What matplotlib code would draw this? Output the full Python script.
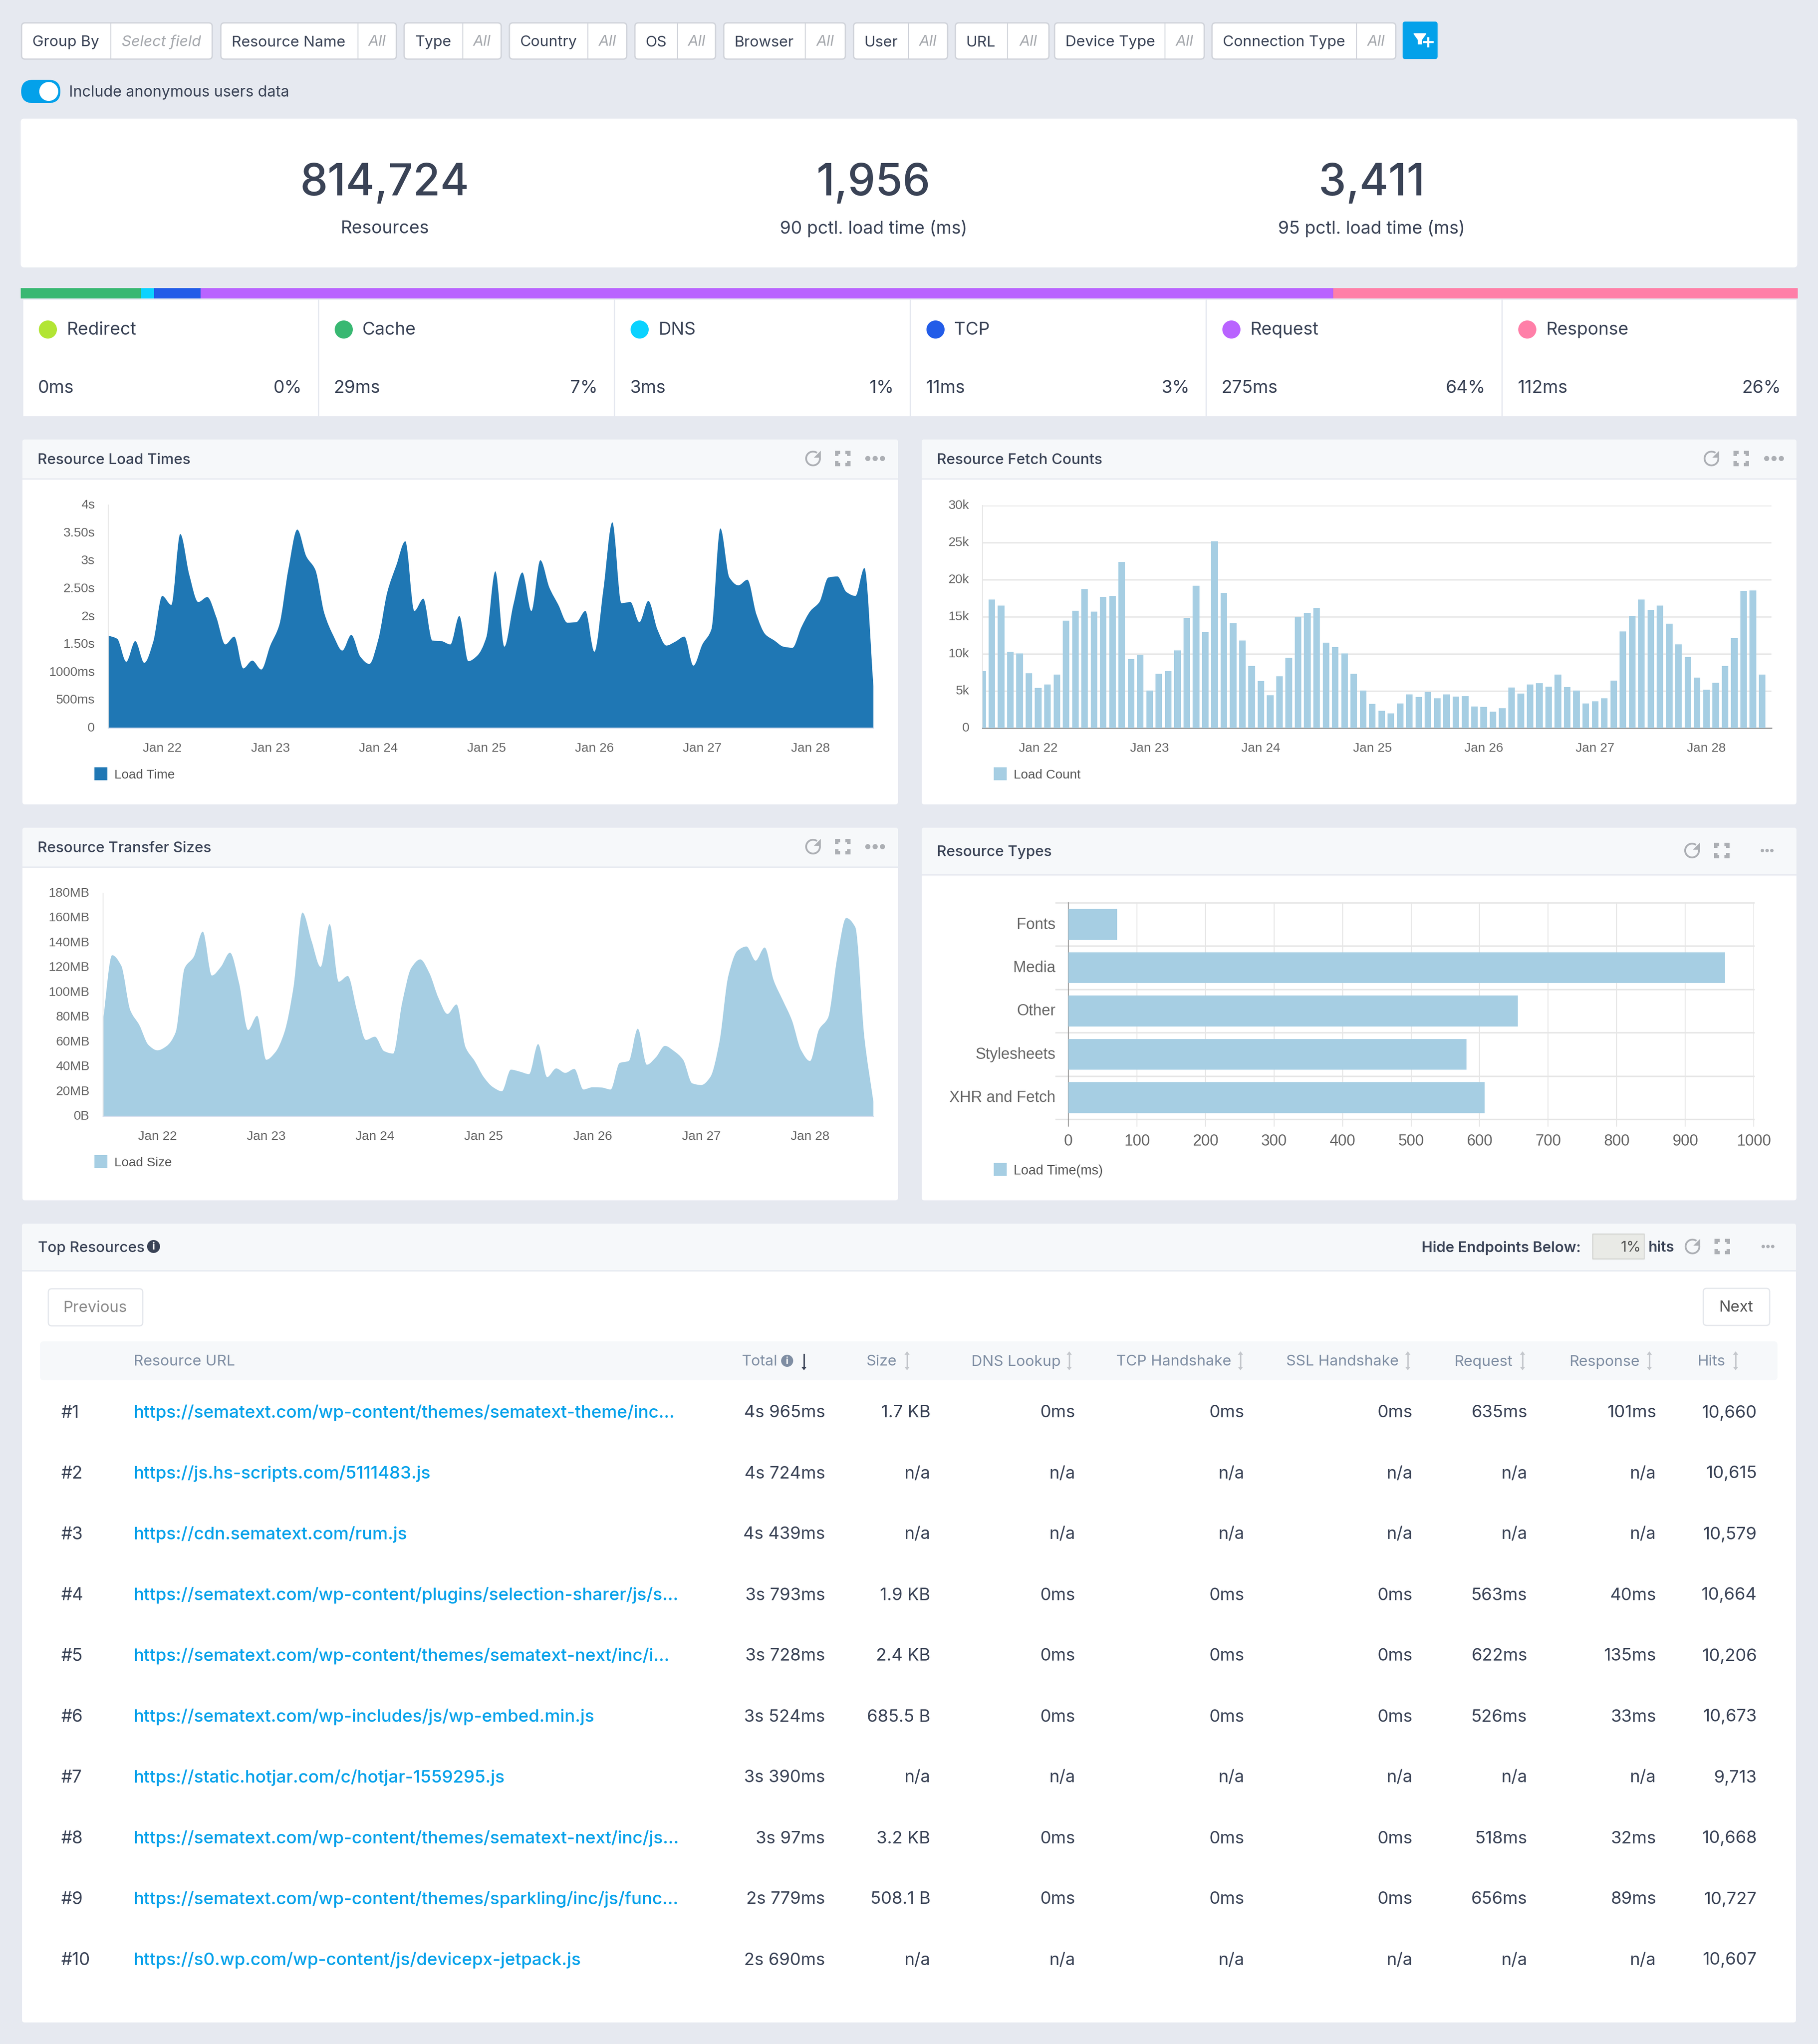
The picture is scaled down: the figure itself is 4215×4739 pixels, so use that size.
import numpy as np
import matplotlib
matplotlib.use('Agg')
import matplotlib.pyplot as plt
from matplotlib.patches import FancyBboxPatch, Rectangle, Circle, Arc, PathPatch, Polygon
from matplotlib.path import Path
from matplotlib.transforms import ScaledTranslation

W, H = 4215, 4739
plt.rcParams['font.family'] = ['Inter', 'DejaVu Sans']

# --- data ---
day_labels = ['Jan 22', 'Jan 23', 'Jan 24', 'Jan 25', 'Jan 26', 'Jan 27', 'Jan 28']

load_time = [1.66, 1.60, 1.19, 1.56, 1.17, 1.55, 2.37, 2.21, 3.48, 2.75, 2.26, 2.35, 1.99, 1.50, 1.64, 1.07, 1.21,
             1.05, 1.48, 1.85, 2.84, 3.56, 3.08, 2.84, 2.06, 1.66, 1.39, 1.67, 1.28, 1.15, 1.59, 2.44, 2.92, 3.35,
             2.10, 2.32, 1.57, 1.56, 1.50, 2.01, 1.20, 1.30, 1.63, 2.81, 1.46, 2.21, 2.79, 2.10, 3.01, 2.52, 2.21,
             1.89, 1.90, 2.10, 1.37, 2.48, 3.69, 2.24, 2.26, 1.90, 2.28, 1.77, 1.48, 1.55, 1.64, 1.12, 1.50, 1.77,
             3.58, 2.70, 2.56, 2.66, 2.04, 1.68, 1.57, 1.46, 1.44, 1.81, 2.10, 2.26, 2.70, 2.72, 2.44, 2.37, 2.87,
             0.75]

fetch_count = [7.7, 17.3, 16.5, 10.3, 10.05, 7.4, 5.4, 5.85, 7.2, 14.5, 15.8, 18.75, 15.7, 17.7, 17.8, 22.4, 9.3,
               9.9, 5.05, 7.3, 7.65, 10.45, 14.85, 19.2, 12.95, 25.2, 18.2, 14.15, 11.8, 8.4, 6.35, 4.4, 7.0, 9.45,
               15.0, 15.5, 16.15, 11.5, 10.95, 10.05, 7.3, 5.05, 3.25, 2.35, 1.95, 3.3, 4.55, 4.2, 4.9, 4.0, 4.55,
               4.25, 4.3, 2.9, 2.85, 2.2, 2.7, 5.45, 4.65, 5.85, 6.05, 5.6, 7.2, 5.5, 5.05, 3.3, 3.6, 4.0, 6.4,
               13.05, 15.1, 17.35, 15.95, 16.5, 14.05, 11.3, 9.6, 6.8, 5.15, 6.1, 8.35, 12.15, 18.5, 18.55, 7.2]

transfer_size = [77.6, 130, 121.6, 85.6, 73.6, 57.6, 53.2, 56.6, 67.6, 119.6, 128.6, 149, 113.6, 120.6, 132, 107.6,
                 69.6, 81, 45.6, 51.6, 67.6, 103.6, 164.4, 141.6, 120.6, 155, 108.6, 113.2, 85.6, 61.6, 64.2, 52.6,
                 50.6, 91.6, 119.6, 126.6, 115.6, 95.6, 82.6, 90.2, 55.6, 44.6, 31.6, 23.6, 20.2, 37.6, 36, 34, 58.2,
                 31.6, 38.6, 35, 38.2, 21.6, 23.4, 23.2, 21.6, 43, 44.6, 70.6, 41.6, 47.6, 56.8, 52.6, 45.6, 26.6,
                 25.2, 31.6, 59.6, 113.6, 133.6, 137, 125.6, 136.2, 109.6, 93.6, 77.6, 53.6, 44.6, 70, 79.6, 127.6,
                 160, 152.6, 63.6, 11.6]

type_names = ['Fonts', 'Media', 'Other', 'Stylesheets', 'XHR and Fetch']
type_values = [71, 958, 656, 581, 607]

load_ticks = [0, 0.5, 1, 1.5, 2, 2.5, 3, 3.5, 4]
load_tick_labels = ['0', '500ms', '1000ms', '1.50s', '2s', '2.50s', '3s', '3.50s', '4s']
fetch_ticks = [0, 5, 10, 15, 20, 25, 30]
fetch_tick_labels = ['0', '5k', '10k', '15k', '20k', '25k', '30k']
size_ticks = [0, 20, 40, 60, 80, 100, 120, 140, 160, 180]
size_tick_labels = ['0B', '20MB', '40MB', '60MB', '80MB', '100MB', '120MB', '140MB', '160MB', '180MB']

filter_names = ['Group By', 'Resource Name', 'Type', 'Country', 'OS', 'Browser', 'User', 'URL', 'Device Type',
                'Connection Type']
filter_values = ['Select field', 'All', 'All', 'All', 'All', 'All', 'All', 'All', 'All', 'All']

stat_numbers = ['814,724', '1,956', '3,411']
stat_names = ['Resources', '90 pctl. load time (ms)', '95 pctl. load time (ms)']

phase_names = ['Redirect', 'Cache', 'DNS', 'TCP', 'Request', 'Response']
phase_times = ['0ms', '29ms', '3ms', '11ms', '275ms', '112ms']
phase_shares = ['0%', '7%', '1%', '3%', '64%', '26%']
phase_colors = ['#b2e534', '#38b872', '#0bd2ff', '#225ce8', '#b963ff', '#ff7fa8']

table_urls = ['https://sematext.com/wp-content/themes/sematext-theme/inc...',
              'https://js.hs-scripts.com/5111483.js',
              'https://cdn.sematext.com/rum.js',
              'https://sematext.com/wp-content/plugins/selection-sharer/js/s...',
              'https://sematext.com/wp-content/themes/sematext-next/inc/i...',
              'https://sematext.com/wp-includes/js/wp-embed.min.js',
              'https://static.hotjar.com/c/hotjar-1559295.js',
              'https://sematext.com/wp-content/themes/sematext-next/inc/js...',
              'https://sematext.com/wp-content/themes/sparkling/inc/js/func...',
              'https://s0.wp.com/wp-content/js/devicepx-jetpack.js']
table_total = ['4s 965ms', '4s 724ms', '4s 439ms', '3s 793ms', '3s 728ms', '3s 524ms', '3s 390ms', '3s 97ms',
               '2s 779ms', '2s 690ms']
table_size = ['1.7 KB', 'n/a', 'n/a', '1.9 KB', '2.4 KB', '685.5 B', 'n/a', '3.2 KB', '508.1 B', 'n/a']
table_dns = ['0ms', 'n/a', 'n/a', '0ms', '0ms', '0ms', 'n/a', '0ms', '0ms', 'n/a']
table_tcp = ['0ms', 'n/a', 'n/a', '0ms', '0ms', '0ms', 'n/a', '0ms', '0ms', 'n/a']
table_ssl = ['0ms', 'n/a', 'n/a', '0ms', '0ms', '0ms', 'n/a', '0ms', '0ms', 'n/a']
table_request = ['635ms', 'n/a', 'n/a', '563ms', '622ms', '526ms', 'n/a', '518ms', '656ms', 'n/a']
table_response = ['101ms', 'n/a', 'n/a', '40ms', '135ms', '33ms', 'n/a', '32ms', '89ms', 'n/a']
table_hits = ['10,660', '10,615', '10,579', '10,664', '10,206', '10,673', '9,713', '10,668', '10,727', '10,607']
table_headers = ['Total', 'Size', 'DNS Lookup', 'TCP Handshake', 'SSL Handshake', 'Request', 'Response', 'Hits']

DARK = '#3a4356'
TICK = '#666666'
GRID = '#e6e6e6'
BLUE = '#1f77b4'
LIGHT = '#a6cee3'
SKY = '#03a1ea'
HEAD = '#f6f8fa'
BG = '#e6e9f0'

fig = plt.figure(figsize=(W / 100, H / 100), dpi=100, facecolor=BG)
ui = fig.add_axes([0, 0, 1, 1])
ui.set_xlim(0, W)
ui.set_ylim(H, 0)
ui.axis('off')


def fs(px):
    return px * 0.72


def txt(x, y, s, px=38, color=DARK, ha='left', **kw):
    ui.text(x, y, s, fontsize=fs(px), color=color, ha=ha, va='center_baseline', **kw)


def box(x0, y0, x1, y1, fc='white', ec='none', lw=0, r=8, z=1):
    ui.add_patch(FancyBboxPatch((x0 + r, y0 + r), x1 - x0 - 2 * r, y1 - y0 - 2 * r,
                                boxstyle='round,pad=%d,rounding_size=%d' % (r, r),
                                fc=fc, ec=ec, lw=lw, zorder=z))


def rect(x0, y0, x1, y1, fc, z=2):
    ui.add_patch(Rectangle((x0, y0), x1 - x0, y1 - y0, fc=fc, ec='none', zorder=z))


def icons(x_refresh, x_full, x_dots, y, gray='#acafb4', dot_r=6, dot_gap=17):
    ui.add_patch(Arc((x_refresh, y), 32, 32, theta1=-15, theta2=305, lw=fs(4.2), ec=gray, zorder=5))
    ui.add_patch(Polygon([[x_refresh + 18, y - 18], [x_refresh + 18, y - 2], [x_refresh + 2, y - 2]], fc=gray,
                         ec='none', zorder=5))
    for sx in (-1, 1):
        for sy in (-1, 1):
            cx, cy = x_full + sx * 14, y + sy * 14
            ui.plot([cx, cx, cx - sx * 8], [cy - sy * 8, cy, cy], color=gray, lw=fs(8), zorder=5,
                    solid_capstyle='butt', solid_joinstyle='miter')
    for dx in (-dot_gap, 0, dot_gap):
        ui.add_patch(Circle((x_dots + dx, y), dot_r, fc=gray, ec='none', zorder=5))


def smooth_area(ax, xs, ys, color):
    # monotone cubic through the values, same look as the d3 area of the original
    xs = np.asarray(xs, float)
    ys = np.asarray(ys, float)
    d = np.diff(ys) / np.diff(xs)
    m = np.zeros(len(ys))
    for i in range(1, len(ys) - 1):
        if d[i - 1] * d[i] > 0:
            m[i] = 2 * d[i - 1] * d[i] / (d[i - 1] + d[i])
    m[0], m[-1] = d[0], d[-1]
    verts = [(xs[0], 0), (xs[0], ys[0])]
    codes = [Path.MOVETO, Path.LINETO]
    for i in range(len(ys) - 1):
        h = xs[i + 1] - xs[i]
        verts += [(xs[i] + h / 3, ys[i] + m[i] * h / 3), (xs[i + 1] - h / 3, ys[i + 1] - m[i + 1] * h / 3),
                  (xs[i + 1], ys[i + 1])]
        codes += [Path.CURVE4] * 3
    verts += [(xs[-1], 0), (xs[0], 0)]
    codes += [Path.LINETO, Path.CLOSEPOLY]
    ax.add_patch(PathPatch(Path(verts, codes), fc=color, ec='none'))


def chart_axes(x0, y0, x1, y1):
    ax = fig.add_axes([x0 / W, 1 - y1 / H, (x1 - x0) / W, (y1 - y0) / H], facecolor='none', zorder=3)
    ax.spines['top'].set_visible(False)
    ax.spines['right'].set_visible(False)
    ax.spines['left'].set_color(GRID)
    ax.spines['left'].set_linewidth(1.6)
    ax.spines['bottom'].set_color('#ccd6eb')
    ax.spines['bottom'].set_linewidth(1.6)
    ax.tick_params(length=0, labelsize=fs(30), labelcolor=TICK, pad=0)
    return ax


def set_fonts(ax, ypad, xpad):
    ax.tick_params(axis='y', pad=ypad * 0.72)
    ax.tick_params(axis='x', pad=xpad * 0.72)
    up = ScaledTranslation(0, 3 / 100, fig.dpi_scale_trans)
    for lab in ax.get_xticklabels():
        lab.set_family('Liberation Sans')
    for lab in ax.get_yticklabels():
        lab.set_family('Liberation Sans')
        lab.set_transform(lab.get_transform() + up)


def legend_key(x, y, color, label, px=30):
    rect(x, y - 15, x + 30, y + 15, color, z=4)
    ui.text(x + 46, y, label, fontsize=fs(px), color='#555555', family='Liberation Sans', ha='left',
            va='center_baseline', zorder=4)


# filter bar
filter_edges = [(50, 257, 492), (512, 830, 919), (937, 1073, 1162), (1181, 1363, 1453), (1472, 1571, 1659),
                (1678, 1867, 1960), (1979, 2106, 2197), (2215, 2336, 2432), (2445, 2701, 2792), (2810, 3145, 3236)]
for (x0, xm, x1), name, val in zip(filter_edges, filter_names, filter_values):
    box(x0, 53, x1, 137, fc='white', ec='#d0d3da', lw=2.2, r=8)
    ui.plot([xm, xm], [54, 136], color='#d0d3da', lw=1.6, zorder=3)
    txt(x0 + 25, 95, name, px=35, zorder=4)
    txt((xm + x1) / 2, 94, val, px=35, color='#a5a8ad', ha='center', style='italic', zorder=4)
box(3252, 50, 3333, 137, fc=SKY, r=6)
ui.add_patch(Polygon([[3278, 78], [3306, 78], [3296, 92], [3296, 102], [3288, 102], [3288, 92]], fc='white',
                     ec='white', lw=1.5, zorder=5))
ui.plot([3301, 3321], [97, 97], color='white', lw=3.4, zorder=5)
ui.plot([3311, 3311], [88, 107], color='white', lw=3.4, zorder=5)

# anonymous toggle
box(49, 185, 140, 239, fc=SKY, r=27)
ui.add_patch(Circle((113, 212), 22, fc='white', ec='none', zorder=3))
txt(160, 211, 'Include anonymous users data', px=35.3)

# big numbers
box(48, 275, 4167, 620, r=8)
for cx, num, name in zip([892, 2025, 3180], stat_numbers, stat_names):
    txt(cx, 416, num, px=102, ha='center', fontweight='medium', zorder=4)
    txt(cx, 526, name, px=41, ha='center', zorder=4)

# phase strip and tiles
strip_edges = [48, 327, 357, 465, 3091, 4168]
for i in range(5):
    rect(strip_edges[i], 668, strip_edges[i + 1], 692, phase_colors[i + 1])
rect(54, 695, 4165, 965, 'white', z=1)
for i in range(6):
    x0 = 54 + 686 * i
    if i:
        rect(x0 - 3, 695, x0, 965, BG)
    ui.add_patch(Circle((x0 + 57, 764), 21, fc=phase_colors[i], ec='none', zorder=3))
    txt(x0 + 100, 761, phase_names[i], px=41, zorder=4)
    txt(x0 + 34, 896, phase_times[i], px=41, zorder=4)
    txt(x0 + 646, 896, phase_shares[i], px=41, ha='right', zorder=4)

# chart cards
cards = [(52, 1019, 2082, 1865, 1109), (2137, 1019, 4165, 1865, 1109), (52, 1919, 2082, 2783, 2009),
         (2137, 1919, 4165, 2783, 2027)]
card_titles = ['Resource Load Times', 'Resource Fetch Counts', 'Resource Transfer Sizes', 'Resource Types']
for (x0, y0, x1, y1, yh), title in zip(cards, card_titles):
    box(x0, y0, x1, y1, r=6)
    box(x0, y0, x1, yh + 6, fc=HEAD, r=6, z=1.5)
    rect(x0, yh, x1, yh + 3, BG)
    rect(x0, yh + 3, x1, yh + 8, 'white', z=1.6)
    txt(x0 + 35, (y0 + yh) / 2, title, px=34.3, fontweight='medium', zorder=4)
icons(1885, 1954, 2029, 1063)
icons(3968, 4037, 4113, 1063)
icons(1885, 1954, 2029, 1963)
icons(3923, 3992, 4097, 1972, dot_r=4, dot_gap=11)

# load times
ax = chart_axes(251, 1171, 2025, 1688)
x_load = np.arange(len(load_time))
smooth_area(ax, x_load, load_time, BLUE)
ax.set_xlim(0, len(load_time) - 1)
ax.set_ylim(0, 4)
ax.set_yticks(load_ticks, load_tick_labels)
ax.set_xticks(np.arange(6, 85, 12), day_labels)
set_fonts(ax, 31, 33)
legend_key(219, 1794, BLUE, 'Load Time')

# fetch counts
ax = chart_axes(2278, 1172, 4107, 1688)
ax.bar(np.arange(len(fetch_count)), fetch_count, width=0.71, color=LIGHT, zorder=3)
ax.set_xlim(0, len(fetch_count))
ax.set_ylim(0, 30)
ax.set_yticks(fetch_ticks, fetch_tick_labels)
ax.set_xticks(np.arange(6, 85, 12), day_labels)
ax.grid(axis='y', color=GRID, lw=2.2, zorder=1)
ax.spines['bottom'].set_color('#999999')
ax.spines['bottom'].set_linewidth(2.2)
set_fonts(ax, 31, 33)
legend_key(2304, 1794, LIGHT, 'Load Count')

# transfer sizes
ax = chart_axes(239, 2071, 2025, 2588)
x_size = np.arange(len(transfer_size))
smooth_area(ax, x_size, transfer_size, LIGHT)
ax.set_xlim(0, len(transfer_size) - 1)
ax.set_ylim(0, 180)
ax.set_yticks(size_ticks, size_tick_labels)
ax.set_xticks(np.arange(6, 85, 12), day_labels)
set_fonts(ax, 31, 33)
legend_key(219, 2693, LIGHT, 'Load Size')

# resource types
ax = chart_axes(2477, 2093, 4066, 2595)
y_types = np.arange(len(type_names))
ax.barh(y_types, type_values, height=0.715, color=LIGHT, zorder=3)
ax.set_xlim(0, 1000)
ax.set_ylim(len(type_names) - 0.5, -0.5)
ax.set_yticks(y_types, type_names)
ax.set_xticks(np.arange(0, 1001, 100))
ax.grid(axis='x', color=GRID, lw=1.6, zorder=1)
ax.spines['left'].set_color('#999999')
ax.spines['bottom'].set_visible(False)
ax.tick_params(labelsize=fs(36))
set_fonts(ax, 30, 34)
for yb in np.arange(len(type_names) + 1) - 0.5:
    ax.plot([-29 / 1.589, 1000], [yb, yb], color=GRID, lw=2.4, zorder=2, clip_on=False)
for xt in ax.get_xticks():
    ax.plot([xt, xt], [len(type_names) - 0.5, len(type_names) - 0.5 + 0.16], color=GRID if xt else '#999999', lw=1.6,
            clip_on=False, zorder=2)
legend_key(2304, 2711, LIGHT, 'Load Time(ms)', px=31)

# table card
box(51, 2837, 4164, 4689, r=6)
box(51, 2837, 4164, 2950, fc=HEAD, r=6, z=1.5)
rect(51, 2945, 4164, 2948, BG)
rect(51, 2948, 4164, 2956, 'white', z=1.6)
txt(88, 2890, 'Top Resources', px=34.3, fontweight='medium', zorder=4)
ui.add_patch(Circle((356, 2890), 15, fc=DARK, ec='none', zorder=4))
ui.text(356, 2891, 'i', fontsize=fs(24), color='white', ha='center', va='center', fontweight='bold', zorder=5)
txt(3665, 2890, 'Hide Endpoints Below:', px=34, ha='right', fontweight='semibold', zorder=4)
ui.add_patch(Rectangle((3693, 2861), 119, 58, fc='#e9eae6', ec='#c9cac6', lw=1.4, zorder=3))
txt(3805, 2890, '1%', px=34, color='#555555', ha='right', zorder=4)
txt(3822, 2890, 'hits', px=34, fontweight='semibold', zorder=4)
icons(3924, 3993, 4099, 2890, dot_r=4, dot_gap=11)

box(112, 2988, 331, 3074, ec='#e3e6eb', lw=2, r=8, z=2)
txt(221, 3029, 'Previous', px=36, color='#8a8a8a', ha='center', zorder=4)
box(3949, 2987, 4103, 3073, ec='#e3e6eb', lw=2, r=8, z=2)
txt(4026, 3028, 'Next', px=36, color='#555555', ha='center', zorder=4)

box(93, 3110, 4121, 3200, fc=HEAD, r=8, z=2)
HDR = '#7f8ea3'
txt(310, 3154, 'Resource URL', px=35, color=HDR, zorder=4)
header_x = [1719, 2009, 2252, 2588, 2982, 3372, 3639, 3936]
arrow_x = [1864, 2103, 2479, 2876, 3264, 3530, 3824, 4024]
for hx, ax_, name in zip(header_x, arrow_x, table_headers):
    txt(hx, 3154, name, px=35, color=HDR, zorder=4)
    col = DARK if name == 'Total' else '#c4c7cc'
    ui.plot([ax_, ax_], [3140, 3170], color=col, lw=2.4, zorder=4)
    if name != 'Total':
        ui.add_patch(Polygon([[ax_ - 6, 3141], [ax_ + 6, 3141], [ax_, 3133]], fc=col, zorder=4))
    ui.add_patch(Polygon([[ax_ - 6, 3169], [ax_ + 6, 3169], [ax_, 3177]], fc=col, zorder=4))
ui.add_patch(Circle((1825, 3155), 14, fc=HDR, ec='none', zorder=4))
ui.text(1825, 3156, 'i', fontsize=fs(22), color='white', ha='center', va='center', fontweight='bold', zorder=5)

col_right = [1913, 2157, 2493, 2885, 3275, 3541, 3840, 4073]
columns = [table_total, table_size, table_dns, table_tcp, table_ssl, table_request, table_response, table_hits]
for i, url in enumerate(table_urls):
    y = 3272 + 141 * i
    txt(141, y, '#%d' % (i + 1), px=40.5, zorder=4)
    txt(309, y, url, px=40.4, color=SKY, fontweight='medium', zorder=4)
    for xr, col in zip(col_right, columns):
        txt(xr, y, col[i], px=40, ha='right', zorder=4)

fig.savefig('out.png', dpi=100, facecolor=BG)
